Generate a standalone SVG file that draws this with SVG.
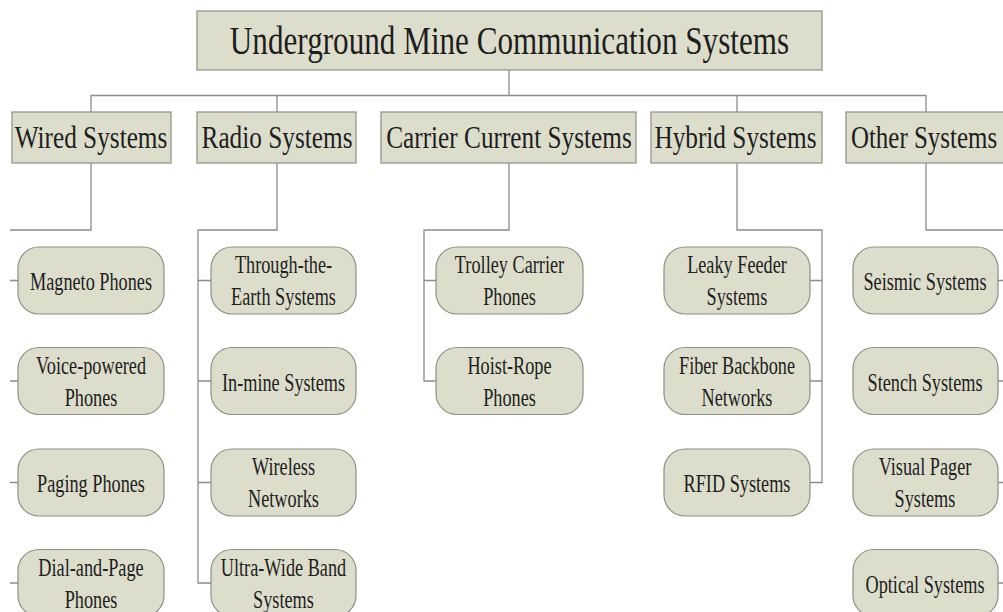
<svg xmlns="http://www.w3.org/2000/svg" width="1003" height="612" viewBox="0 0 1003 612">
  <style>
    .box { fill: #dcddcb; stroke: #8e8f85; stroke-width: 1.2; }
    .leaf { fill: #dcddcb; stroke: #8e8f85; stroke-width: 1.2; }
    .lnk { fill: none; stroke: #8c8c8c; stroke-width: 1.3; }
    text { font-family: "Liberation Serif", "Times New Roman", serif; fill: #1e1e1e; text-anchor: middle; }
    .root-t { font-size: 41px; }
    .cat-t { font-size: 32px; }
    .leaf-t { font-size: 25px; }
  </style>
  <rect width="1003" height="612" fill="#ffffff"/>

  <!-- tree connectors -->
  <g id="connectors">
    <path class="lnk" d="M509 70 V95.5 M91 112 V95.5 H926 V112 M277 95.5 V112 M737 95.5 V112"/>
    <!-- Wired -->
    <path class="lnk" d="M91 163 V230 H10"/>
    <path class="lnk" d="M10 280.5 H18 M10 381 H18 M10 482.5 H18 M10 583 H18"/>
    <!-- Radio -->
    <path class="lnk" d="M277 163 V230 H198 V583 H211 M198 280.5 H211 M198 381 H211 M198 482.5 H211"/>
    <!-- Carrier current -->
    <path class="lnk" d="M509 163 V230 H424 V381 H436 M424 280.5 H436"/>
    <!-- Hybrid -->
    <path class="lnk" d="M737 163 V230 H822 V482.5 H810 M822 280.5 H810 M822 381 H810"/>
    <!-- Other -->
    <path class="lnk" d="M926 163 V230 H1003"/>
    <path class="lnk" d="M998 280.5 H1003 M998 381 H1003 M998 482.5 H1003 M998 583 H1003"/>
  </g>

  <!-- text is set in a condensed serif: each label is squeezed horizontally about its centre -->
  <g id="root">
    <rect class="box" x="197" y="11" width="625" height="59"/>
    <text class="root-t" transform="translate(509.5 54) scale(0.76 1)">Underground Mine Communication Systems</text>
  </g>

  <g id="cat-wired">
    <rect class="box" x="12" y="112" width="159" height="51"/>
    <text class="cat-t" transform="translate(91 148) scale(0.79 1)">Wired Systems</text>
  </g>
  <g id="cat-radio">
    <rect class="box" x="197" y="112" width="159" height="51"/>
    <text class="cat-t" transform="translate(277 148) scale(0.79 1)">Radio Systems</text>
  </g>
  <g id="cat-carrier">
    <rect class="box" x="381" y="112" width="255" height="51"/>
    <text class="cat-t" transform="translate(509 148) scale(0.79 1)">Carrier Current Systems</text>
  </g>
  <g id="cat-hybrid">
    <rect class="box" x="651" y="112" width="171" height="51"/>
    <text class="cat-t" transform="translate(735.5 148) scale(0.79 1)">Hybrid Systems</text>
  </g>
  <g id="cat-other">
    <rect class="box" x="846" y="112" width="160" height="51"/>
    <text class="cat-t" transform="translate(924 148) scale(0.78 1)">Other Systems</text>
  </g>

  <!-- Wired systems -->
  <g id="magneto">
    <rect class="leaf" x="18" y="247" width="146" height="67" rx="21"/>
    <text class="leaf-t" transform="translate(91 290) scale(0.73 1)">Magneto Phones</text>
  </g>
  <g id="voice">
    <rect class="leaf" x="18" y="347.5" width="146" height="67" rx="21"/>
    <text class="leaf-t" transform="translate(91 374) scale(0.73 1)">Voice-powered</text>
    <text class="leaf-t" transform="translate(91 406) scale(0.73 1)">Phones</text>
  </g>
  <g id="paging">
    <rect class="leaf" x="18" y="449" width="146" height="67" rx="21"/>
    <text class="leaf-t" transform="translate(91 492) scale(0.73 1)">Paging Phones</text>
  </g>
  <g id="dialpage">
    <rect class="leaf" x="18" y="549.5" width="146" height="67" rx="21"/>
    <text class="leaf-t" transform="translate(91 576) scale(0.73 1)">Dial-and-Page</text>
    <text class="leaf-t" transform="translate(91 608) scale(0.73 1)">Phones</text>
  </g>

  <!-- Radio systems -->
  <g id="tte">
    <rect class="leaf" x="211" y="247" width="145" height="67" rx="21"/>
    <text class="leaf-t" transform="translate(283.5 273) scale(0.73 1)">Through-the-</text>
    <text class="leaf-t" transform="translate(283.5 305) scale(0.73 1)">Earth Systems</text>
  </g>
  <g id="inmine">
    <rect class="leaf" x="211" y="347.5" width="145" height="67" rx="21"/>
    <text class="leaf-t" transform="translate(283.5 390.5) scale(0.73 1)">In-mine Systems</text>
  </g>
  <g id="wireless">
    <rect class="leaf" x="211" y="449" width="145" height="67" rx="21"/>
    <text class="leaf-t" transform="translate(283.5 475) scale(0.73 1)">Wireless</text>
    <text class="leaf-t" transform="translate(283.5 507) scale(0.73 1)">Networks</text>
  </g>
  <g id="uwb">
    <rect class="leaf" x="211" y="549.5" width="145" height="67" rx="21"/>
    <text class="leaf-t" transform="translate(283.5 576) scale(0.73 1)">Ultra-Wide Band</text>
    <text class="leaf-t" transform="translate(283.5 608) scale(0.73 1)">Systems</text>
  </g>

  <!-- Carrier current systems -->
  <g id="trolley">
    <rect class="leaf" x="436" y="247" width="147" height="67" rx="21"/>
    <text class="leaf-t" transform="translate(509.5 273) scale(0.73 1)">Trolley Carrier</text>
    <text class="leaf-t" transform="translate(509.5 305) scale(0.73 1)">Phones</text>
  </g>
  <g id="hoist">
    <rect class="leaf" x="436" y="347.5" width="147" height="67" rx="21"/>
    <text class="leaf-t" transform="translate(509.5 374) scale(0.73 1)">Hoist-Rope</text>
    <text class="leaf-t" transform="translate(509.5 406) scale(0.73 1)">Phones</text>
  </g>

  <!-- Hybrid systems -->
  <g id="leaky">
    <rect class="leaf" x="664" y="247" width="146" height="67" rx="21"/>
    <text class="leaf-t" transform="translate(737 273) scale(0.73 1)">Leaky Feeder</text>
    <text class="leaf-t" transform="translate(737 305) scale(0.73 1)">Systems</text>
  </g>
  <g id="fiber">
    <rect class="leaf" x="664" y="347.5" width="146" height="67" rx="21"/>
    <text class="leaf-t" transform="translate(737 374) scale(0.73 1)">Fiber Backbone</text>
    <text class="leaf-t" transform="translate(737 406) scale(0.73 1)">Networks</text>
  </g>
  <g id="rfid">
    <rect class="leaf" x="664" y="449" width="146" height="67" rx="21"/>
    <text class="leaf-t" transform="translate(737 492) scale(0.73 1)">RFID Systems</text>
  </g>

  <!-- Other systems -->
  <g id="seismic">
    <rect class="leaf" x="853" y="247" width="145" height="67" rx="21"/>
    <text class="leaf-t" transform="translate(925 290) scale(0.73 1)">Seismic Systems</text>
  </g>
  <g id="stench">
    <rect class="leaf" x="853" y="347.5" width="145" height="67" rx="21"/>
    <text class="leaf-t" transform="translate(925 390.5) scale(0.73 1)">Stench Systems</text>
  </g>
  <g id="visual">
    <rect class="leaf" x="853" y="449" width="145" height="67" rx="21"/>
    <text class="leaf-t" transform="translate(925 475) scale(0.73 1)">Visual Pager</text>
    <text class="leaf-t" transform="translate(925 507) scale(0.73 1)">Systems</text>
  </g>
  <g id="optical">
    <rect class="leaf" x="853" y="549.5" width="145" height="67" rx="21"/>
    <text class="leaf-t" transform="translate(925 592.5) scale(0.73 1)">Optical Systems</text>
  </g>
</svg>
